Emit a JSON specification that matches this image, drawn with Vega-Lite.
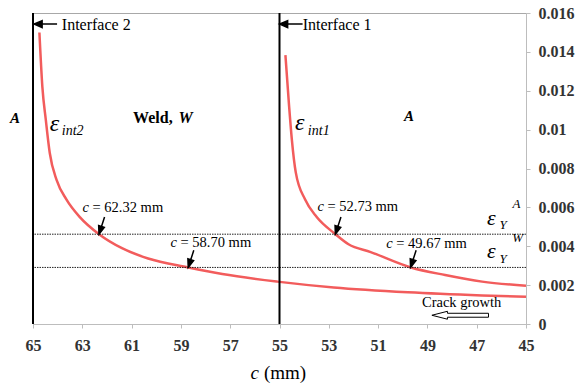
{
  "$schema": "https://vega.github.io/schema/vega-lite/v6.json",
  "width": 493,
  "height": 311,
  "autosize": "none",
  "padding": {"left": 33, "top": 13, "right": 55, "bottom": 63},
  "background": "white",
  "config": {
    "view": {"stroke": "#a8a8a8", "strokeWidth": 1},
    "axis": {"grid": false, "domainColor": "#bdbdbd", "tickColor": "#bdbdbd", "tickSize": 4, "labelFont": "Liberation Serif, Times New Roman, serif", "labelFontWeight": "bold", "labelFontSize": 16, "labelColor": "#333333", "labelOverlap": false},
    "text": {"font": "Liberation Serif, Times New Roman, serif", "color": "black"}
  },
  "datasets": {
    "curves": [
      {"c": 64.74, "eps": 0.0150, "series": "int2"},
      {"c": 64.62, "eps": 0.0122, "series": "int2"},
      {"c": 64.48, "eps": 0.0105, "series": "int2"},
      {"c": 64.32, "eps": 0.0088, "series": "int2"},
      {"c": 64.04, "eps": 0.0074, "series": "int2"},
      {"c": 63.64, "eps": 0.0064, "series": "int2"},
      {"c": 63.10, "eps": 0.0055, "series": "int2"},
      {"c": 62.32, "eps": 0.00462, "series": "int2"},
      {"c": 61.39, "eps": 0.0039, "series": "int2"},
      {"c": 60.33, "eps": 0.00337, "series": "int2"},
      {"c": 58.70, "eps": 0.00291, "series": "int2"},
      {"c": 57.32, "eps": 0.00257, "series": "int2"},
      {"c": 55.09, "eps": 0.00218, "series": "int2"},
      {"c": 52.80, "eps": 0.00188, "series": "int2"},
      {"c": 49.79, "eps": 0.00163, "series": "int2"},
      {"c": 46.78, "eps": 0.00147, "series": "int2"},
      {"c": 45.00, "eps": 0.0014, "series": "int2"},
      {"c": 54.76, "eps": 0.01383, "series": "int1"},
      {"c": 54.61, "eps": 0.0112, "series": "int1"},
      {"c": 54.50, "eps": 0.0095, "series": "int1"},
      {"c": 54.34, "eps": 0.0078, "series": "int1"},
      {"c": 53.96, "eps": 0.0064, "series": "int1"},
      {"c": 53.49, "eps": 0.0055, "series": "int1"},
      {"c": 52.73, "eps": 0.00462, "series": "int1"},
      {"c": 52.20, "eps": 0.0041, "series": "int1"},
      {"c": 51.30, "eps": 0.0037, "series": "int1"},
      {"c": 49.67, "eps": 0.00291, "series": "int1"},
      {"c": 48.28, "eps": 0.00252, "series": "int1"},
      {"c": 46.78, "eps": 0.00218, "series": "int1"},
      {"c": 45.00, "eps": 0.00197, "series": "int1"}
    ],
    "hlines": [{"v": 0.00462}, {"v": 0.00291}],
    "vlines": [{"c": 65}, {"c": 55}],
    "ifArrows": [{"c": 64.49, "v": 0.01543}, {"c": 54.53, "v": 0.01543}],
    "cArrows": [
      {"c": 62.21, "v": 0.00506},
      {"c": 58.59, "v": 0.00335},
      {"c": 52.62, "v": 0.00506},
      {"c": 49.57, "v": 0.00335}
    ],
    "growth": [{"c": 47.67, "v": 0.00045}],
    "interfaces": [
      {"c": 63.83, "v": 0.01512, "t": "Interface 2"},
      {"c": 54.06, "v": 0.01512, "t": "Interface 1"}
    ],
    "regionA": [
      {"c": 65.73, "v": 0.01036, "t": "A"},
      {"c": 49.75, "v": 0.01046, "t": "A"}
    ],
    "weld": [{"c": 60.94, "v": 0.01033, "t": "Weld,"}],
    "weldW": [{"c": 59.1, "v": 0.01033, "t": "W"}],
    "epsInt": [
      {"c": 64.32, "v": 0.00995, "t": "ε"},
      {"c": 54.37, "v": 0.00998, "t": "ε"}
    ],
    "intSub": [
      {"c": 63.83, "v": 0.00973, "t": "int2"},
      {"c": 53.85, "v": 0.00973, "t": "int1"}
    ],
    "epsY": [
      {"c": 46.58, "v": 0.0051, "t": "ε"},
      {"c": 46.58, "v": 0.00339, "t": "ε"}
    ],
    "ySub": [
      {"c": 46.07, "v": 0.00488, "t": "Y"},
      {"c": 46.07, "v": 0.00313, "t": "Y"}
    ],
    "sup": [
      {"c": 45.55, "v": 0.00596, "t": "A"},
      {"c": 45.56, "v": 0.00424, "t": "W"}
    ],
    "cLabels": [
      {"c": 62.99, "v": 0.00596, "t": "= 62.32 mm"},
      {"c": 59.42, "v": 0.00416, "t": "= 58.70 mm"},
      {"c": 53.46, "v": 0.00601, "t": "= 52.73 mm"},
      {"c": 50.67, "v": 0.00411, "t": "= 49.67 mm"}
    ],
    "crack": [{"c": 49.22, "v": 0.0009, "t": "Crack growth"}],
    "titleC": [{"c": 56.18, "v": -0.00281, "t": "c"}],
    "titleMM": [{"c": 55.63, "v": -0.00281, "t": "(mm)"}]
  },
  "layer": [
    {
      "data": {"name": "curves"},
      "mark": {"type": "line", "color": "#f25c5c", "strokeWidth": 2.5, "interpolate": "monotone"},
      "encoding": {
        "x": {"field": "c", "type": "quantitative", "scale": {"domain": [65, 45], "nice": false, "zero": false},
              "axis": {"title": null, "values": [65, 63, 61, 59, 57, 55, 53, 51, 49, 47, 45], "labelPadding": 9, "labelFlush": false}},
        "y": {"field": "eps", "type": "quantitative", "scale": {"domain": [0, 0.016], "nice": false, "zero": false},
              "axis": {"orient": "right", "title": null, "tickCount": 9, "values": [0, 0.002, 0.004, 0.006, 0.008, 0.01, 0.012, 0.014, 0.016], "labelExpr": "format(datum.value, '~g')", "labelPadding": 8, "labelFlush": false, "labelOverlap": false, "labelBound": false, "labelSeparation": 0}},
        "detail": {"field": "series", "type": "nominal"}
      }
    },
    {
      "data": {"name": "hlines"},
      "mark": {"type": "rule", "color": "#222222", "strokeWidth": 1, "strokeDash": [1.5, 1]},
      "encoding": {"y": {"field": "v", "type": "quantitative"}}
    },
    {
      "data": {"name": "vlines"},
      "mark": {"type": "rule", "color": "black", "strokeWidth": 2},
      "encoding": {"x": {"field": "c", "type": "quantitative"}}
    },
    {
      "data": {"name": "ifArrows"},
      "mark": {"type": "point", "shape": "M 1 0 L -0.5 0 M -0.3 -0.3 L -1 0 L -0.3 0.3 Z", "size": 529, "filled": true, "fill": "black", "stroke": "black", "strokeWidth": 1.5, "opacity": 1},
      "encoding": {"x": {"field": "c", "type": "quantitative"}, "y": {"field": "v", "type": "quantitative"}}
    },
    {
      "data": {"name": "cArrows"},
      "mark": {"type": "point", "shape": "M 0 -1 L 0 0.3 M -0.33 0.1 L 0 1 L 0.33 0.1 Z", "size": 324, "angle": 18, "filled": true, "fill": "black", "stroke": "black", "strokeWidth": 1.5, "opacity": 1},
      "encoding": {"x": {"field": "c", "type": "quantitative"}, "y": {"field": "v", "type": "quantitative"}}
    },
    {
      "data": {"name": "growth"},
      "mark": {"type": "point", "shape": "M -1 0 L -0.45 -0.14 L -0.45 -0.07 L 1 -0.07 L 1 0.07 L -0.45 0.07 L -0.45 0.14 Z", "size": 3204, "filled": true, "fill": "white", "stroke": "black", "strokeWidth": 1, "opacity": 1},
      "encoding": {"x": {"field": "c", "type": "quantitative"}, "y": {"field": "v", "type": "quantitative"}}
    },
    {
      "data": {"name": "interfaces"},
      "mark": {"type": "text", "fontSize": 16, "align": "left", "baseline": "alphabetic"},
      "encoding": {"x": {"field": "c", "type": "quantitative"}, "y": {"field": "v", "type": "quantitative"}, "text": {"field": "t"}}
    },
    {
      "data": {"name": "regionA"},
      "mark": {"type": "text", "fontSize": 15, "fontWeight": "bold", "fontStyle": "italic", "align": "center", "baseline": "alphabetic"},
      "encoding": {"x": {"field": "c", "type": "quantitative"}, "y": {"field": "v", "type": "quantitative"}, "text": {"field": "t"}}
    },
    {
      "data": {"name": "weld"},
      "mark": {"type": "text", "fontSize": 16, "fontWeight": "bold", "align": "left", "baseline": "alphabetic"},
      "encoding": {"x": {"field": "c", "type": "quantitative"}, "y": {"field": "v", "type": "quantitative"}, "text": {"field": "t"}}
    },
    {
      "data": {"name": "weldW"},
      "mark": {"type": "text", "fontSize": 16, "fontWeight": "bold", "fontStyle": "italic", "align": "left", "baseline": "alphabetic"},
      "encoding": {"x": {"field": "c", "type": "quantitative"}, "y": {"field": "v", "type": "quantitative"}, "text": {"field": "t"}}
    },
    {
      "data": {"name": "epsInt"},
      "mark": {"type": "text", "fontSize": 24, "fontStyle": "italic", "align": "left", "baseline": "alphabetic"},
      "encoding": {"x": {"field": "c", "type": "quantitative"}, "y": {"field": "v", "type": "quantitative"}, "text": {"field": "t"}}
    },
    {
      "data": {"name": "intSub"},
      "mark": {"type": "text", "fontSize": 14, "fontStyle": "italic", "align": "left", "baseline": "alphabetic"},
      "encoding": {"x": {"field": "c", "type": "quantitative"}, "y": {"field": "v", "type": "quantitative"}, "text": {"field": "t"}}
    },
    {
      "data": {"name": "epsY"},
      "mark": {"type": "text", "fontSize": 22, "fontStyle": "italic", "align": "left", "baseline": "alphabetic"},
      "encoding": {"x": {"field": "c", "type": "quantitative"}, "y": {"field": "v", "type": "quantitative"}, "text": {"field": "t"}}
    },
    {
      "data": {"name": "ySub"},
      "mark": {"type": "text", "fontSize": 13, "fontStyle": "italic", "align": "left", "baseline": "alphabetic"},
      "encoding": {"x": {"field": "c", "type": "quantitative"}, "y": {"field": "v", "type": "quantitative"}, "text": {"field": "t"}}
    },
    {
      "data": {"name": "sup"},
      "mark": {"type": "text", "fontSize": 13, "fontStyle": "italic", "align": "left", "baseline": "alphabetic"},
      "encoding": {"x": {"field": "c", "type": "quantitative"}, "y": {"field": "v", "type": "quantitative"}, "text": {"field": "t"}}
    },
    {
      "data": {"name": "cLabels"},
      "mark": {"type": "text", "fontSize": 14.5, "fontStyle": "italic", "align": "left", "baseline": "middle", "text": "c"},
      "encoding": {"x": {"field": "c", "type": "quantitative"}, "y": {"field": "v", "type": "quantitative"}}
    },
    {
      "data": {"name": "cLabels"},
      "mark": {"type": "text", "fontSize": 14.5, "align": "left", "baseline": "middle", "dx": 10},
      "encoding": {"x": {"field": "c", "type": "quantitative"}, "y": {"field": "v", "type": "quantitative"}, "text": {"field": "t"}}
    },
    {
      "data": {"name": "crack"},
      "mark": {"type": "text", "fontSize": 14.5, "align": "left", "baseline": "alphabetic"},
      "encoding": {"x": {"field": "c", "type": "quantitative"}, "y": {"field": "v", "type": "quantitative"}, "text": {"field": "t"}}
    },
    {
      "data": {"name": "titleC"},
      "mark": {"type": "text", "fontSize": 19, "fontStyle": "italic", "align": "left", "baseline": "alphabetic"},
      "encoding": {"x": {"field": "c", "type": "quantitative"}, "y": {"field": "v", "type": "quantitative"}, "text": {"field": "t"}}
    },
    {
      "data": {"name": "titleMM"},
      "mark": {"type": "text", "fontSize": 19, "align": "left", "baseline": "alphabetic"},
      "encoding": {"x": {"field": "c", "type": "quantitative"}, "y": {"field": "v", "type": "quantitative"}, "text": {"field": "t"}}
    }
  ]
}
